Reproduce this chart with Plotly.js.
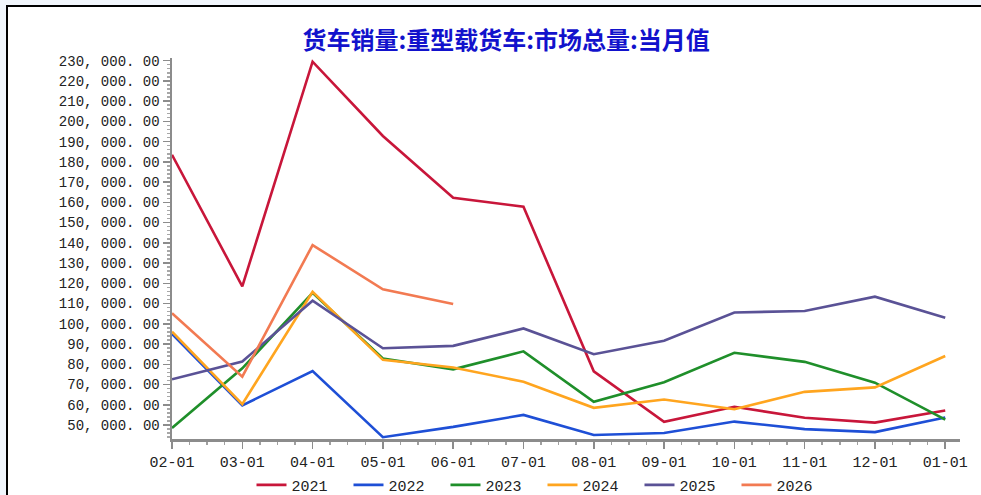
<!DOCTYPE html>
<html>
<head>
<meta charset="utf-8">
<script src="https://cdn.plot.ly/plotly-3.0.1.min.js"></script>
<style>
  html, body { margin: 0; padding: 0; width: 981px; height: 495px; overflow: hidden; background: #F1F6FC; }
  #frame { position: absolute; left: 6px; top: 5px; width: 990px; height: 520px; background: #ffffff;
           border-left: 2px solid #000; border-top: 2px solid #000; }
  #chart { position: absolute; left: 0; top: 0; width: 981px; height: 495px; }
</style>
</head>
<body>
<div id="frame"></div>
<div id="chart"></div>
<script>
// ---- data ----
const categories = ["02-01","03-01","04-01","05-01","06-01","07-01","08-01","09-01","10-01","11-01","12-01","01-01"];
const seriesNames = ["2021","2022","2023","2024","2025","2026"];
const s2021 = [183500, 118500, 229500, 192800, 162300, 157800, 76500, 51600, 59000, 53600, 51200, 57200];
const s2022 = [95000, 59700, 76700, 44000, 49100, 55000, 45100, 46100, 51700, 48000, 46500, 53700];
const s2023 = [48500, 78000, 115300, 82900, 77500, 86400, 61500, 71100, 85700, 81200, 70900, 52700];
const s2024 = [96100, 60300, 115800, 82200, 78400, 71400, 58500, 62600, 57800, 66400, 68600, 84100];
const s2025 = [72600, 81400, 111400, 87900, 89100, 97700, 85000, 91600, 105600, 106300, 113400, 103000];
const s2026 = [105200, 73900, 138900, 117000, 109800];
const yTickVals = [50000,60000,70000,80000,90000,100000,110000,120000,130000,140000,150000,160000,170000,180000,190000,200000,210000,220000,230000];
const yTickText = ["50, 000. 00","60, 000. 00","70, 000. 00","80, 000. 00","90, 000. 00","100, 000. 00","110, 000. 00","120, 000. 00","130, 000. 00","140, 000. 00","150, 000. 00","160, 000. 00","170, 000. 00","180, 000. 00","190, 000. 00","200, 000. 00","210, 000. 00","220, 000. 00","230, 000. 00"];
const colors = ["#C8163A","#1E4FD6","#1F8F2A","#FFA51F","#5A5296","#F27A52"];
const titleText = "货车销量:重型载货车:市场总量:当月值";

// ---- chart ----
const allSeries = [s2021, s2022, s2023, s2024, s2025, s2026];
const xIndex = categories.map((c, i) => i);
const traces = allSeries.map((vals, k) => ({
  type: "scatter",
  mode: "lines",
  name: seriesNames[k],
  x: xIndex.slice(0, vals.length),
  y: vals,
  line: { color: colors[k], width: 2.6 },
  hoverinfo: "skip"
}));

const monoFont = "Liberation Mono, DejaVu Sans Mono, monospace";
const layout = {
  width: 981, height: 495,
  paper_bgcolor: "rgba(0,0,0,0)",
  plot_bgcolor: "rgba(0,0,0,0)",
  margin: { l: 172, r: 21, t: 58, b: 56, pad: 0, autoexpand: false },
  title: {
    text: "<b>" + titleText + "</b>",
    font: { family: "Noto Sans CJK SC, sans-serif", size: 24, color: "#1212CC" },
    x: 0.424, xanchor: "center", xref: "paper",
    y: 0.918, yref: "container", yanchor: "middle",
    automargin: false
  },
  xaxis: {
    type: "linear",
    range: [0, 11.21],
    tickmode: "array",
    tickvals: xIndex,
    ticktext: categories,
    ticks: "outside", ticklen: 7, tickwidth: 1.5, tickcolor: "#8c8c8c",
    minor: { dtick: 0.25, tick0: 0, ticks: "outside", ticklen: 3, tickcolor: "#a0a0a0", showgrid: false },
    showline: true, linecolor: "#8c8c8c", linewidth: 2.5,
    showgrid: false, zeroline: false,
    tickfont: { family: monoFont, size: 15, color: "#222" },
    automargin: false,
    fixedrange: true
  },
  yaxis: {
    range: [43100, 231300],
    tickmode: "array",
    tickvals: yTickVals,
    ticktext: yTickText,
    ticks: "outside", ticklen: 7, tickwidth: 1.5, tickcolor: "#8c8c8c",
    minor: { dtick: 2000, tick0: 0, ticks: "outside", ticklen: 3, tickcolor: "#a8a8a8", showgrid: false },
    showline: true, linecolor: "#8c8c8c", linewidth: 2.5,
    showgrid: false, zeroline: false,
    tickfont: { family: monoFont, size: 14, color: "#222" },
    automargin: false,
    fixedrange: true
  },
  showlegend: true,
  legend: {
    orientation: "h",
    xref: "container", x: 0.553, xanchor: "center",
    yref: "paper", y: -0.121, yanchor: "middle",
    font: { family: monoFont, size: 15, color: "#222" },
    bgcolor: "rgba(0,0,0,0)",
    itemwidth: 30,
    entrywidth: 52,
    traceorder: "normal"
  }
};

Plotly.newPlot("chart", traces, layout, { displayModeBar: false, staticPlot: true });
</script>
</body>
</html>
